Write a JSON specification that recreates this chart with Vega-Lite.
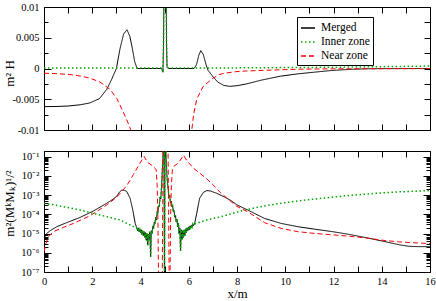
{
"$schema":"https://vega.github.io/schema/vega-lite/v6.json",
"padding":{"left":2,"top":1,"right":0,"bottom":0},
"background":"white",
"spacing":9,
"config":{
 "view":{"stroke":"black","strokeWidth":1},
 "axis":{"labelFont":"Liberation Serif","labelFontSize":10.5,"labelColor":"black","titleFont":"Liberation Serif","titleFontSize":13,"titleFontWeight":"normal","titleColor":"black","tickColor":"black","tickWidth":1,"domain":false,"grid":false,"labelFlush":false,"labelOverlap":false}
},
"resolve":{"scale":{"color":"independent","strokeDash":"independent"}},
"datasets":{
"top":[
{"s":"Merged","x":0,"v":-0.0062},{"s":"Merged","x":0.5,"v":-0.00618},{"s":"Merged","x":1.0,"v":-0.0061},{"s":"Merged","x":1.5,"v":-0.0059},{"s":"Merged","x":1.9,"v":-0.0056},{"s":"Merged","x":2.3,"v":-0.0049},{"s":"Merged","x":2.6,"v":-0.0034},{"s":"Merged","x":2.8,"v":-0.0018},{"s":"Merged","x":3.0,"v":0},{"s":"Merged","x":3.15,"v":0.0032},{"s":"Merged","x":3.3,"v":0.0056},{"s":"Merged","x":3.44,"v":0.0063},{"s":"Merged","x":3.56,"v":0.0052},{"s":"Merged","x":3.66,"v":0.0033},{"s":"Merged","x":3.76,"v":0.0011},{"s":"Merged","x":3.85,"v":0.0001},{"s":"Merged","x":3.9,"v":0},{"s":"Merged","x":4.88,"v":0},{"s":"Merged","x":4.93,"v":-0.0006},{"s":"Merged","x":4.955,"v":0.004},{"s":"Merged","x":4.975,"v":0.015},{"s":"Merged","x":5.06,"v":0.015},{"s":"Merged","x":5.08,"v":0.004},{"s":"Merged","x":5.1,"v":0.0002},{"s":"Merged","x":5.15,"v":0},{"s":"Merged","x":6.22,"v":0},{"s":"Merged","x":6.32,"v":0.0006},{"s":"Merged","x":6.42,"v":0.0022},{"s":"Merged","x":6.5,"v":0.0029},{"s":"Merged","x":6.6,"v":0.0023},{"s":"Merged","x":6.72,"v":0.0006},{"s":"Merged","x":6.8,"v":-0.0003},{"s":"Merged","x":7.0,"v":-0.0013},{"s":"Merged","x":7.2,"v":-0.0022},{"s":"Merged","x":7.45,"v":-0.00275},{"s":"Merged","x":7.7,"v":-0.0029},{"s":"Merged","x":8.0,"v":-0.0028},{"s":"Merged","x":8.4,"v":-0.0025},{"s":"Merged","x":9.0,"v":-0.0019},{"s":"Merged","x":9.8,"v":-0.00125},{"s":"Merged","x":10.5,"v":-0.00088},{"s":"Merged","x":11.2,"v":-0.0006},{"s":"Merged","x":11.9,"v":-0.00033},{"s":"Merged","x":12.6,"v":-0.00016},{"s":"Merged","x":13.3,"v":-0.00005},{"s":"Merged","x":14,"v":-0.00002},{"s":"Merged","x":16,"v":0},
{"s":"Inner zone","x":0,"v":0.0001},{"s":"Inner zone","x":3.9,"v":0.0001},{"s":"Inner zone","x":4.88,"v":0.0001},{"s":"Inner zone","x":4.93,"v":-0.0006},{"s":"Inner zone","x":4.955,"v":0.004},{"s":"Inner zone","x":4.975,"v":0.015},{"s":"Inner zone","x":5.06,"v":0.015},{"s":"Inner zone","x":5.08,"v":0.004},{"s":"Inner zone","x":5.1,"v":0.0002},{"s":"Inner zone","x":5.15,"v":0.0001},{"s":"Inner zone","x":8,"v":0.0001},{"s":"Inner zone","x":12,"v":0.0002},{"s":"Inner zone","x":16,"v":0.0004},
{"s":"Near zone","x":0,"v":-0.00077},{"s":"Near zone","x":0.6,"v":-0.00085},{"s":"Near zone","x":1.22,"v":-0.00104},{"s":"Near zone","x":1.6,"v":-0.0013},{"s":"Near zone","x":1.91,"v":-0.00158},{"s":"Near zone","x":2.32,"v":-0.0022},{"s":"Near zone","x":2.74,"v":-0.0034},{"s":"Near zone","x":3.02,"v":-0.0049},{"s":"Near zone","x":3.29,"v":-0.0071},{"s":"Near zone","x":3.5,"v":-0.009},{"s":"Near zone","x":3.65,"v":-0.0105},{"s":"Near zone","x":3.8,"v":-0.013},{"s":"Near zone","x":4.1,"v":-0.02},{"s":"Near zone","x":4.5,"v":-0.04},{"s":"Near zone","x":5.5,"v":-0.04},{"s":"Near zone","x":5.9,"v":-0.02},{"s":"Near zone","x":6.05,"v":-0.013},{"s":"Near zone","x":6.12,"v":-0.0102},{"s":"Near zone","x":6.2,"v":-0.0075},{"s":"Near zone","x":6.33,"v":-0.005},{"s":"Near zone","x":6.6,"v":-0.0029},{"s":"Near zone","x":7.0,"v":-0.0016},{"s":"Near zone","x":7.25,"v":-0.001},{"s":"Near zone","x":7.5,"v":-0.00075},{"s":"Near zone","x":8.0,"v":-0.0005},{"s":"Near zone","x":8.4,"v":-0.0004},{"s":"Near zone","x":9.1,"v":-0.0003},{"s":"Near zone","x":10.5,"v":-0.00012},{"s":"Near zone","x":12,"v":-0.00005},{"s":"Near zone","x":16,"v":-0.00002}
],
"bot":[
{"s":"Merged","x":0,"v":3.98e-6},{"s":"Merged","x":0.05,"v":7.08e-6},{"s":"Merged","x":0.11,"v":1e-5},{"s":"Merged","x":0.25,"v":1.41e-5},{"s":"Merged","x":0.53,"v":2.29e-5},{"s":"Merged","x":0.94,"v":3.72e-5},{"s":"Merged","x":1.49,"v":6.92e-5},{"s":"Merged","x":2.05,"v":1.51e-4},{"s":"Merged","x":2.6,"v":3.8e-4},{"s":"Merged","x":2.85,"v":6.03e-4},{"s":"Merged","x":3.02,"v":8.91e-4},{"s":"Merged","x":3.12,"v":1.413e-3},{"s":"Merged","x":3.22,"v":1.82e-3},{"s":"Merged","x":3.32,"v":1.82e-3},{"s":"Merged","x":3.43,"v":1.549e-3},{"s":"Merged","x":3.57,"v":6.92e-4},{"s":"Merged","x":3.68,"v":1.698e-4},{"s":"Merged","x":3.78,"v":3.39e-5},
{"s":"Merged","x":3.85,"v":1.905e-5},{"s":"Merged","x":3.88,"v":1.413e-5},{"s":"Merged","x":3.91,"v":1.995e-5},{"s":"Merged","x":3.94,"v":1.259e-5},{"s":"Merged","x":3.97,"v":1.66e-5},{"s":"Merged","x":4.0,"v":1.122e-5},{"s":"Merged","x":4.03,"v":1.585e-5},{"s":"Merged","x":4.06,"v":8.91e-6},{"s":"Merged","x":4.09,"v":1.413e-5},{"s":"Merged","x":4.12,"v":7.94e-6},{"s":"Merged","x":4.15,"v":1.259e-5},{"s":"Merged","x":4.18,"v":6.31e-6},{"s":"Merged","x":4.21,"v":1.122e-5},{"s":"Merged","x":4.24,"v":4.47e-6},{"s":"Merged","x":4.27,"v":1e-5},{"s":"Merged","x":4.3,"v":2.51e-6},{"s":"Merged","x":4.33,"v":8.91e-6},{"s":"Merged","x":4.36,"v":5.01e-6},{"s":"Merged","x":4.39,"v":1.259e-5},{"s":"Merged","x":4.42,"v":6.31e-7},{"s":"Merged","x":4.45,"v":1.413e-5},{"s":"Merged","x":4.48,"v":1e-5},{"s":"Merged","x":4.51,"v":2.51e-5},{"s":"Merged","x":4.54,"v":1.778e-5},{"s":"Merged","x":4.57,"v":3.98e-5},{"s":"Merged","x":4.6,"v":3.16e-5},{"s":"Merged","x":4.63,"v":7.08e-5},{"s":"Merged","x":4.66,"v":5.01e-5},{"s":"Merged","x":4.69,"v":1.413e-4},{"s":"Merged","x":4.72,"v":1.122e-4},{"s":"Merged","x":4.75,"v":2.82e-4},{"s":"Merged","x":4.78,"v":2.51e-4},{"s":"Merged","x":4.81,"v":7.94e-4},{"s":"Merged","x":4.84,"v":6.31e-4},{"s":"Merged","x":4.87,"v":2.51e-3},{"s":"Merged","x":4.9,"v":1.585e-2},{"s":"Merged","x":4.93,"v":7.94e-2},{"s":"Merged","x":4.95,"v":0.501},{"s":"Merged","x":4.975,"v":0.501},{"s":"Merged","x":4.995,"v":2.51e-8},{"s":"Merged","x":5.015,"v":0.501},{"s":"Merged","x":5.04,"v":0.501},{"s":"Merged","x":5.06,"v":0.1},{"s":"Merged","x":5.09,"v":1.259e-2},{"s":"Merged","x":5.12,"v":3.98e-3},{"s":"Merged","x":5.15,"v":2.0e-3},{"s":"Merged","x":5.18,"v":7.94e-4},{"s":"Merged","x":5.21,"v":1e-3},{"s":"Merged","x":5.24,"v":3.98e-4},{"s":"Merged","x":5.27,"v":5.01e-4},{"s":"Merged","x":5.3,"v":2.51e-4},{"s":"Merged","x":5.33,"v":2.82e-4},{"s":"Merged","x":5.36,"v":1.413e-4},{"s":"Merged","x":5.39,"v":1.585e-4},{"s":"Merged","x":5.42,"v":7.08e-5},{"s":"Merged","x":5.45,"v":8.91e-5},{"s":"Merged","x":5.48,"v":3.98e-5},{"s":"Merged","x":5.51,"v":5.62e-5},{"s":"Merged","x":5.54,"v":2.24e-5},{"s":"Merged","x":5.57,"v":3.55e-5},{"s":"Merged","x":5.6,"v":1e-5},{"s":"Merged","x":5.63,"v":1.995e-5},{"s":"Merged","x":5.66,"v":1.259e-6},{"s":"Merged","x":5.69,"v":1.585e-5},{"s":"Merged","x":5.72,"v":5.01e-6},{"s":"Merged","x":5.75,"v":1.413e-5},{"s":"Merged","x":5.78,"v":6.31e-6},{"s":"Merged","x":5.81,"v":1.585e-5},{"s":"Merged","x":5.84,"v":7.94e-6},{"s":"Merged","x":5.87,"v":1.778e-5},{"s":"Merged","x":5.9,"v":1.122e-5},{"s":"Merged","x":5.93,"v":1.995e-5},{"s":"Merged","x":5.96,"v":1.413e-5},{"s":"Merged","x":5.99,"v":2.24e-5},{"s":"Merged","x":6.02,"v":1.585e-5},{"s":"Merged","x":6.05,"v":2.51e-5},{"s":"Merged","x":6.08,"v":1.995e-5},{"s":"Merged","x":6.11,"v":2.82e-5},{"s":"Merged","x":6.14,"v":2.24e-5},{"s":"Merged","x":6.17,"v":3.16e-5},{"s":"Merged","x":6.2,"v":2.63e-5},{"s":"Merged","x":6.24,"v":3.16e-5},
{"s":"Merged","x":6.33,"v":1.122e-4},{"s":"Merged","x":6.45,"v":6.92e-4},{"s":"Merged","x":6.61,"v":1.413e-3},{"s":"Merged","x":6.75,"v":1.738e-3},{"s":"Merged","x":6.89,"v":1.66e-3},{"s":"Merged","x":7.16,"v":1.259e-3},{"s":"Merged","x":7.58,"v":6.92e-4},{"s":"Merged","x":7.75,"v":5.25e-4},{"s":"Merged","x":7.99,"v":3.16e-4},{"s":"Merged","x":8.44,"v":1.698e-4},{"s":"Merged","x":9.14,"v":6.17e-5},{"s":"Merged","x":9.83,"v":3.39e-5},{"s":"Merged","x":10.52,"v":2.29e-5},{"s":"Merged","x":11.22,"v":1.698e-5},{"s":"Merged","x":11.91,"v":1.288e-5},{"s":"Merged","x":12.6,"v":9.33e-6},{"s":"Merged","x":13.3,"v":6.31e-6},{"s":"Merged","x":13.99,"v":4.17e-6},{"s":"Merged","x":14.68,"v":2.69e-6},{"s":"Merged","x":15.1,"v":2.19e-6},{"s":"Merged","x":15.5,"v":2.09e-6},{"s":"Merged","x":16,"v":2.09e-6},
{"s":"Inner zone","x":0,"v":3.8e-4},{"s":"Inner zone","x":0.66,"v":2.75e-4},{"s":"Inner zone","x":1.49,"v":1.698e-4},{"s":"Inner zone","x":2.32,"v":9.33e-5},{"s":"Inner zone","x":3.15,"v":5.13e-5},{"s":"Inner zone","x":3.71,"v":2.29e-5},
{"s":"Inner zone","x":3.85,"v":1.905e-5},{"s":"Inner zone","x":3.88,"v":1.413e-5},{"s":"Inner zone","x":3.91,"v":1.995e-5},{"s":"Inner zone","x":3.94,"v":1.259e-5},{"s":"Inner zone","x":3.97,"v":1.66e-5},{"s":"Inner zone","x":4.0,"v":1.122e-5},{"s":"Inner zone","x":4.03,"v":1.585e-5},{"s":"Inner zone","x":4.06,"v":8.91e-6},{"s":"Inner zone","x":4.09,"v":1.413e-5},{"s":"Inner zone","x":4.12,"v":7.94e-6},{"s":"Inner zone","x":4.15,"v":1.259e-5},{"s":"Inner zone","x":4.18,"v":6.31e-6},{"s":"Inner zone","x":4.21,"v":1.122e-5},{"s":"Inner zone","x":4.24,"v":4.47e-6},{"s":"Inner zone","x":4.27,"v":1e-5},{"s":"Inner zone","x":4.3,"v":2.51e-6},{"s":"Inner zone","x":4.33,"v":8.91e-6},{"s":"Inner zone","x":4.36,"v":5.01e-6},{"s":"Inner zone","x":4.39,"v":1.259e-5},{"s":"Inner zone","x":4.42,"v":6.31e-7},{"s":"Inner zone","x":4.45,"v":1.413e-5},{"s":"Inner zone","x":4.48,"v":1e-5},{"s":"Inner zone","x":4.51,"v":2.51e-5},{"s":"Inner zone","x":4.54,"v":1.778e-5},{"s":"Inner zone","x":4.57,"v":3.98e-5},{"s":"Inner zone","x":4.6,"v":3.16e-5},{"s":"Inner zone","x":4.63,"v":7.08e-5},{"s":"Inner zone","x":4.66,"v":5.01e-5},{"s":"Inner zone","x":4.69,"v":1.413e-4},{"s":"Inner zone","x":4.72,"v":1.122e-4},{"s":"Inner zone","x":4.75,"v":2.82e-4},{"s":"Inner zone","x":4.78,"v":2.51e-4},{"s":"Inner zone","x":4.81,"v":7.94e-4},{"s":"Inner zone","x":4.84,"v":6.31e-4},{"s":"Inner zone","x":4.87,"v":2.51e-3},{"s":"Inner zone","x":4.9,"v":1.585e-2},{"s":"Inner zone","x":4.93,"v":7.94e-2},{"s":"Inner zone","x":4.95,"v":0.501},{"s":"Inner zone","x":4.975,"v":0.501},{"s":"Inner zone","x":4.995,"v":2.51e-8},{"s":"Inner zone","x":5.015,"v":0.501},{"s":"Inner zone","x":5.04,"v":0.501},{"s":"Inner zone","x":5.06,"v":0.1},{"s":"Inner zone","x":5.09,"v":1.259e-2},{"s":"Inner zone","x":5.12,"v":3.98e-3},{"s":"Inner zone","x":5.15,"v":2.0e-3},{"s":"Inner zone","x":5.18,"v":7.94e-4},{"s":"Inner zone","x":5.21,"v":1e-3},{"s":"Inner zone","x":5.24,"v":3.98e-4},{"s":"Inner zone","x":5.27,"v":5.01e-4},{"s":"Inner zone","x":5.3,"v":2.51e-4},{"s":"Inner zone","x":5.33,"v":2.82e-4},{"s":"Inner zone","x":5.36,"v":1.413e-4},{"s":"Inner zone","x":5.39,"v":1.585e-4},{"s":"Inner zone","x":5.42,"v":7.08e-5},{"s":"Inner zone","x":5.45,"v":8.91e-5},{"s":"Inner zone","x":5.48,"v":3.98e-5},{"s":"Inner zone","x":5.51,"v":5.62e-5},{"s":"Inner zone","x":5.54,"v":2.24e-5},{"s":"Inner zone","x":5.57,"v":3.55e-5},{"s":"Inner zone","x":5.6,"v":1e-5},{"s":"Inner zone","x":5.63,"v":1.995e-5},{"s":"Inner zone","x":5.66,"v":1.259e-6},{"s":"Inner zone","x":5.69,"v":1.585e-5},{"s":"Inner zone","x":5.72,"v":5.01e-6},{"s":"Inner zone","x":5.75,"v":1.413e-5},{"s":"Inner zone","x":5.78,"v":6.31e-6},{"s":"Inner zone","x":5.81,"v":1.585e-5},{"s":"Inner zone","x":5.84,"v":7.94e-6},{"s":"Inner zone","x":5.87,"v":1.778e-5},{"s":"Inner zone","x":5.9,"v":1.122e-5},{"s":"Inner zone","x":5.93,"v":1.995e-5},{"s":"Inner zone","x":5.96,"v":1.413e-5},{"s":"Inner zone","x":5.99,"v":2.24e-5},{"s":"Inner zone","x":6.02,"v":1.585e-5},{"s":"Inner zone","x":6.05,"v":2.51e-5},{"s":"Inner zone","x":6.08,"v":1.995e-5},{"s":"Inner zone","x":6.11,"v":2.82e-5},{"s":"Inner zone","x":6.14,"v":2.24e-5},{"s":"Inner zone","x":6.17,"v":3.16e-5},{"s":"Inner zone","x":6.2,"v":2.63e-5},{"s":"Inner zone","x":6.24,"v":3.16e-5},
{"s":"Inner zone","x":6.75,"v":5.13e-5},{"s":"Inner zone","x":7.44,"v":8.13e-5},{"s":"Inner zone","x":7.99,"v":1.318e-4},{"s":"Inner zone","x":8.44,"v":1.82e-4},{"s":"Inner zone","x":9.14,"v":2.75e-4},{"s":"Inner zone","x":9.83,"v":3.8e-4},{"s":"Inner zone","x":10.52,"v":5.01e-4},{"s":"Inner zone","x":11.22,"v":6.31e-4},{"s":"Inner zone","x":11.91,"v":7.76e-4},{"s":"Inner zone","x":12.6,"v":9.55e-4},{"s":"Inner zone","x":13.3,"v":1.122e-3},{"s":"Inner zone","x":13.99,"v":1.318e-3},{"s":"Inner zone","x":14.68,"v":1.479e-3},{"s":"Inner zone","x":16,"v":1.738e-3},
{"s":"Near zone","x":0,"v":1.122e-6},{"s":"Near zone","x":0.08,"v":3.02e-6},{"s":"Near zone","x":0.18,"v":6.76e-6},{"s":"Near zone","x":0.39,"v":1.259e-5},{"s":"Near zone","x":0.8,"v":2.09e-5},{"s":"Near zone","x":1.22,"v":3.39e-5},{"s":"Near zone","x":1.91,"v":8.51e-5},{"s":"Near zone","x":2.6,"v":3.09e-4},{"s":"Near zone","x":3.02,"v":7.94e-4},{"s":"Near zone","x":3.43,"v":3.16e-3},{"s":"Near zone","x":3.71,"v":1.202e-2},{"s":"Near zone","x":3.98,"v":4.68e-2},{"s":"Near zone","x":4.15,"v":0.1047},{"s":"Near zone","x":4.29,"v":5.13e-2},{"s":"Near zone","x":4.54,"v":3.16e-2},{"s":"Near zone","x":4.65,"v":2.09e-2},{"s":"Near zone","x":4.69,"v":3.16e-3},{"s":"Near zone","x":4.72,"v":1e-4},{"s":"Near zone","x":4.75,"v":2.51e-8},{"s":"Near zone","x":4.9,"v":2.51e-8},{"s":"Near zone","x":4.925,"v":1e-3},{"s":"Near zone","x":4.94,"v":0.398},{"s":"Near zone","x":5.14,"v":0.398},{"s":"Near zone","x":5.16,"v":1e-3},{"s":"Near zone","x":5.19,"v":2.51e-8},{"s":"Near zone","x":5.22,"v":2.51e-8},{"s":"Near zone","x":5.25,"v":1e-4},{"s":"Near zone","x":5.28,"v":3.16e-3},{"s":"Near zone","x":5.32,"v":2.09e-2},{"s":"Near zone","x":5.37,"v":3.16e-2},{"s":"Near zone","x":5.57,"v":4.68e-2},{"s":"Near zone","x":5.78,"v":0.1202},{"s":"Near zone","x":5.95,"v":5.62e-2},{"s":"Near zone","x":6.2,"v":2.51e-2},{"s":"Near zone","x":6.5,"v":1.259e-2},{"s":"Near zone","x":6.75,"v":7.08e-3},{"s":"Near zone","x":7.0,"v":3.55e-3},{"s":"Near zone","x":7.3,"v":1.413e-3},{"s":"Near zone","x":7.55,"v":7.59e-4},{"s":"Near zone","x":7.75,"v":4.68e-4},{"s":"Near zone","x":7.99,"v":2.63e-4},{"s":"Near zone","x":8.44,"v":1.38e-4},{"s":"Near zone","x":9.14,"v":3.72e-5},{"s":"Near zone","x":9.83,"v":1.862e-5},{"s":"Near zone","x":10.52,"v":1.259e-5},{"s":"Near zone","x":11.22,"v":1.023e-5},{"s":"Near zone","x":11.91,"v":8.71e-6},{"s":"Near zone","x":12.6,"v":7.41e-6},{"s":"Near zone","x":13.3,"v":6.03e-6},{"s":"Near zone","x":13.99,"v":4.57e-6},{"s":"Near zone","x":14.68,"v":3.72e-6},{"s":"Near zone","x":15.38,"v":3.31e-6},{"s":"Near zone","x":16,"v":3.02e-6}
]
},
"vconcat":[
{
 "width":386,"height":123,
 "data":{"name":"top"},
 "layer":[
  {"transform":[{"filter":"datum.s==='Merged'"}],
   "mark":{"type":"line","clip":true,"strokeWidth":1},
   "encoding":{
    "x":{"field":"x","type":"quantitative","scale":{"domain":[0,16],"nice":false,"zero":false},"axis":{"orient":"bottom","values":[0,1,2,3,4,5,6,7,8,9,10,11,12,13,14,15,16],"labels":false,"title":null,"tickSize":-6}},
    "y":{"field":"v","type":"quantitative","scale":{"domain":[-0.01,0.01],"nice":false,"zero":false},"axis":{"orient":"left","values":[-0.01,-0.0075,-0.005,-0.0025,0,0.0025,0.005,0.0075,0.01],"labelExpr":"indexof([-0.01,-0.005,0,0.005,0.01], datum.value) >= 0 ? '' + datum.value : ''","tickSize":{"condition":{"test":"indexof([-0.01,-0.005,0,0.005,0.01], datum.value) >= 0","value":-7},"value":-4},"labelPadding":12,"title":"m² H","titleX":-31,"titleY":66,"titleBaseline":"alphabetic","titleAngle":270,"titleAlign":"center"}},
    "color":{"field":"s","type":"nominal","scale":{"domain":["Merged","Inner zone","Near zone"],"range":["#000000","#00a800","#ff0000"]},"legend":{"title":null,"orient":"none","legendX":253,"legendY":10,"direction":"vertical","strokeColor":"black","fillColor":"white","padding":3,"symbolType":"stroke","symbolSize":196,"symbolStrokeWidth":1.3,"labelFont":"Liberation Serif","labelFontSize":11.5,"labelColor":"black","rowPadding":-2,"labelOffset":5}},
    "strokeDash":{"field":"s","type":"nominal","scale":{"domain":["Merged","Inner zone","Near zone"],"range":[[1,0],[1.5,2.5],[5,3]]},"legend":{"title":null,"orient":"none","legendX":253,"legendY":10,"direction":"vertical","strokeColor":"black","fillColor":"white","padding":3,"symbolType":"stroke","symbolSize":196,"symbolStrokeWidth":1.3,"labelFont":"Liberation Serif","labelFontSize":11.5,"labelColor":"black","rowPadding":-2,"labelOffset":5}}
   }},
  {"transform":[{"filter":"datum.s==='Inner zone'"}],
   "mark":{"type":"line","clip":true,"strokeWidth":1.5},
   "encoding":{
    "x":{"field":"x","type":"quantitative","axis":null},
    "y":{"field":"v","type":"quantitative","axis":null},
    "color":{"field":"s","type":"nominal"},
    "strokeDash":{"field":"s","type":"nominal"}
   }},
  {"transform":[{"filter":"datum.s==='Near zone'"}],
   "mark":{"type":"line","clip":true,"strokeWidth":1},
   "encoding":{
    "x":{"field":"x","type":"quantitative","axis":null},
    "y":{"field":"v","type":"quantitative","axis":null},
    "color":{"field":"s","type":"nominal"},
    "strokeDash":{"field":"s","type":"nominal"}
   }},
  {"transform":[{"filter":"datum.s==='Merged' && datum.x===0"}],
   "mark":{"type":"point","opacity":0},
   "encoding":{
    "x":{"field":"x","type":"quantitative","axis":{"orient":"top","values":[0,1,2,3,4,5,6,7,8,9,10,11,12,13,14,15,16],"labels":false,"title":null,"tickSize":-6}},
    "y":{"field":"v","type":"quantitative","axis":{"orient":"right","values":[-0.01,-0.0075,-0.005,-0.0025,0,0.0025,0.005,0.0075,0.01],"labels":false,"title":null,"tickSize":-6}}
   }}
 ],
 "resolve":{"axis":{"x":"independent","y":"independent"}}
},
{
 "width":386,"height":121,
 "data":{"name":"bot"},
 "layer":[
  {"transform":[{"filter":"datum.s==='Merged'"}],
   "mark":{"type":"line","clip":true,"strokeWidth":1},
   "encoding":{
    "x":{"field":"x","type":"quantitative","scale":{"domain":[0,16],"nice":false,"zero":false},"axis":{"orient":"bottom","values":[0,1,2,3,4,5,6,7,8,9,10,11,12,13,14,15,16],"labelExpr":"datum.value % 2 === 0 ? '' + datum.value : ''","tickSize":-6,"labelPadding":10,"title":"x/m","titlePadding":1}},
    "y":{"field":"v","type":"quantitative","scale":{"type":"log","domain":[1e-7,0.2],"nice":false},"axis":{"orient":"left","values":[1e-7,2e-7,3e-7,4e-7,5e-7,6e-7,7e-7,8e-7,9e-7,1e-6,2e-6,3e-6,4e-6,5e-6,6e-6,7e-6,8e-6,9e-6,1e-5,2e-5,3e-5,4e-5,5e-5,6e-5,7e-5,8e-5,9e-5,1e-4,2e-4,3e-4,4e-4,5e-4,6e-4,7e-4,8e-4,9e-4,1e-3,2e-3,3e-3,4e-3,5e-3,6e-3,7e-3,8e-3,9e-3,1e-2,2e-2,3e-2,4e-2,5e-2,6e-2,7e-2,8e-2,9e-2,0.1,0.2],"labelExpr":"abs(log(datum.value)/LN10 - round(log(datum.value)/LN10)) < 0.0001 ? '10⁻' + ['⁰','¹','²','³','⁴','⁵','⁶','⁷'][-round(log(datum.value)/LN10)] : ''","tickSize":{"condition":{"test":"abs(log(datum.value)/LN10 - round(log(datum.value)/LN10)) < 0.0001","value":-7},"value":-4},"labelPadding":12,"title":"m²(MᵏMₖ)¹/²","titleX":-31,"titleY":52,"titleBaseline":"alphabetic","titleAngle":270,"titleAlign":"center"}},
    "color":{"field":"s","type":"nominal","scale":{"domain":["Merged","Inner zone","Near zone"],"range":["#000000","#00a800","#ff0000"]},"legend":null},
    "strokeDash":{"field":"s","type":"nominal","scale":{"domain":["Merged","Inner zone","Near zone"],"range":[[1,0],[1.5,2.5],[5,3]]},"legend":null}
   }},
  {"transform":[{"filter":"datum.s==='Inner zone'"}],
   "mark":{"type":"line","clip":true,"strokeWidth":1.5},
   "encoding":{
    "x":{"field":"x","type":"quantitative","axis":null},
    "y":{"field":"v","type":"quantitative","axis":null},
    "color":{"field":"s","type":"nominal"},
    "strokeDash":{"field":"s","type":"nominal"}
   }},
  {"transform":[{"filter":"datum.s==='Near zone'"}],
   "mark":{"type":"line","clip":true,"strokeWidth":1},
   "encoding":{
    "x":{"field":"x","type":"quantitative","axis":null},
    "y":{"field":"v","type":"quantitative","axis":null},
    "color":{"field":"s","type":"nominal"},
    "strokeDash":{"field":"s","type":"nominal"}
   }},
  {"transform":[{"filter":"datum.s==='Merged' && datum.x===0"}],
   "mark":{"type":"point","opacity":0},
   "encoding":{
    "x":{"field":"x","type":"quantitative","axis":{"orient":"top","values":[0,1,2,3,4,5,6,7,8,9,10,11,12,13,14,15,16],"labels":false,"title":null,"tickSize":-6}},
    "y":{"field":"v","type":"quantitative","axis":{"orient":"right","values":[1e-7,2e-7,3e-7,4e-7,5e-7,6e-7,7e-7,8e-7,9e-7,1e-6,2e-6,3e-6,4e-6,5e-6,6e-6,7e-6,8e-6,9e-6,1e-5,2e-5,3e-5,4e-5,5e-5,6e-5,7e-5,8e-5,9e-5,1e-4,2e-4,3e-4,4e-4,5e-4,6e-4,7e-4,8e-4,9e-4,1e-3,2e-3,3e-3,4e-3,5e-3,6e-3,7e-3,8e-3,9e-3,1e-2,2e-2,3e-2,4e-2,5e-2,6e-2,7e-2,8e-2,9e-2,0.1,0.2],"labels":false,"title":null,"tickSize":{"condition":{"test":"abs(log(datum.value)/LN10 - round(log(datum.value)/LN10)) < 0.0001","value":-7},"value":-4}}}
   }}
 ],
 "resolve":{"axis":{"x":"independent","y":"independent"}}
}
]
}
